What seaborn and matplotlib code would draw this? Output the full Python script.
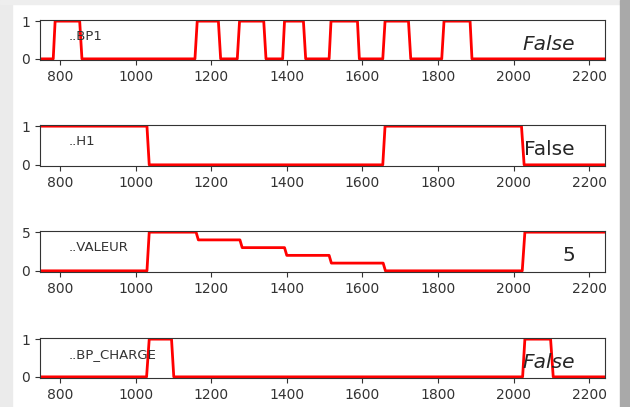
import matplotlib
matplotlib.use("Agg")
import matplotlib.pyplot as plt
from matplotlib.patches import Rectangle
import seaborn as sns

# signal traces (time, value)
T_BP1 = [747, 782, 787, 852, 858, 1157, 1163, 1219, 1225, 1269, 1275, 1339, 1345,
         1389, 1394, 1444, 1450, 1512, 1517, 1587, 1592, 1654, 1660, 1722, 1728,
         1810, 1816, 1885, 1890, 2242]
V_BP1 = [0, 0, 1, 1, 0, 0, 1, 1, 0, 0, 1, 1, 0, 0, 1, 1, 0, 0, 1, 1, 0, 0, 1, 1, 0,
         0, 1, 1, 0, 0]

T_H1 = [747, 1030, 1036, 1654, 1660, 2021, 2028, 2242]
V_H1 = [1, 1, 0, 0, 1, 1, 0, 0]

T_VALEUR = [747, 1030, 1036, 1160, 1166, 1276, 1282, 1394, 1400, 1512, 1518,
            1655, 1661, 2023, 2030, 2242]
V_VALEUR = [0, 0, 5, 5, 4, 4, 3, 3, 2, 2, 1, 1, 0, 0, 5, 5]

T_CHARGE = [747, 1029, 1036, 1095, 1101, 2024, 2030, 2098, 2105, 2242]
V_CHARGE = [0, 0, 1, 1, 0, 0, 1, 1, 0, 0]

NAMES = ["..BP1", "..H1", "..VALEUR", "..BP_CHARGE"]
STATES = ["False", "False", "5", "False"]
ITALIC = [True, False, False, True]
YMAX = [1, 1, 5, 1]
XTICKS = [800, 1000, 1200, 1400, 1600, 1800, 2000, 2200]
XLIM = (747, 2242)

W, H = 630, 407
fig = plt.figure(figsize=(W / 100, H / 100), dpi=100)

# screenshot border
fig.patches.append(Rectangle((0, 0), 12 / W, 1, transform=fig.transFigure,
                             color="#ebebeb", zorder=-1))
fig.patches.append(Rectangle((0, 1 - 4 / H), 1, 4 / H, transform=fig.transFigure,
                             color="#eeeeee", zorder=-1))
fig.patches.append(Rectangle((620 / W, 0), 10 / W, 1, transform=fig.transFigure,
                             color="#a9a9a9", zorder=-1))

series = [(T_BP1, V_BP1), (T_H1, V_H1), (T_VALEUR, V_VALEUR), (T_CHARGE, V_CHARGE)]
tops = [20, 125, 231, 338]
bottoms = [60, 166, 272, 378]

for i, (t, v) in enumerate(series):
    ax = fig.add_axes([40 / W, 1 - bottoms[i] / H, 565 / W,
                       (bottoms[i] - tops[i]) / H])
    sns.lineplot(x=t, y=v, ax=ax, color="red", lw=2, estimator=None)
    pad = 0.03 * YMAX[i]
    ax.set_xlim(*XLIM)
    ax.set_ylim(-pad, YMAX[i] + pad)
    ax.set_yticks([0, YMAX[i]])
    ax.set_xticks(XTICKS)
    ax.tick_params(labelsize=10, colors="0.2", labelcolor="0.2")
    ax.set_xlabel("")
    ax.set_ylabel("")
    for s in ax.spines.values():
        s.set_color("0.2")
    ax.text(0.05, 0.59, NAMES[i], transform=ax.transAxes, ha="left",
            va="center", fontsize=9.5, color="0.2")
    ax.text(0.947, 0.4, STATES[i], transform=ax.transAxes, ha="right",
            va="center", fontsize=14.5, color="0.15",
            style="italic" if ITALIC[i] else "normal")

fig.savefig("out.png", dpi=100)
